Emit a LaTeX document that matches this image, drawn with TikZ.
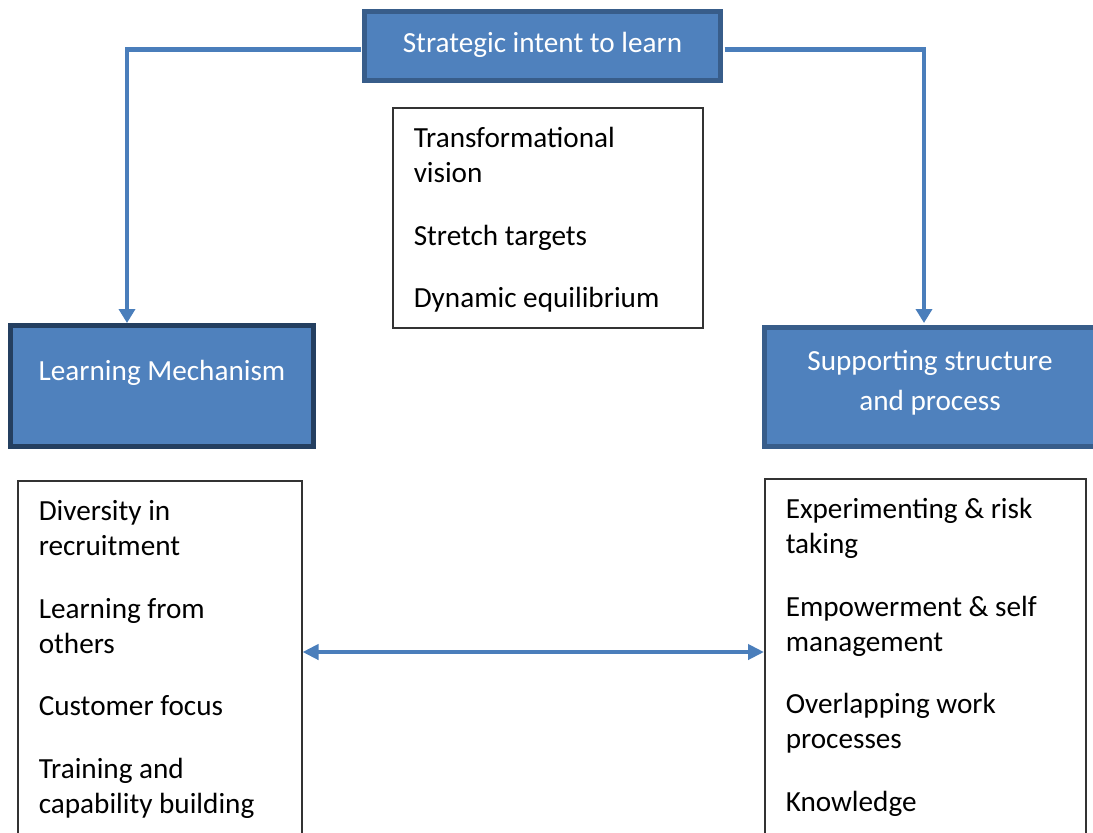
\documentclass[tikz,border=0pt]{standalone}
\usepackage{fontspec}
\setmainfont{Carlito}
\usetikzlibrary{arrows.meta}
\definecolor{boxfill}{HTML}{4F81BD}
\definecolor{boxline}{HTML}{385D8A}
\definecolor{boxdark}{HTML}{243F60}
\definecolor{linkblue}{HTML}{4A7EBB}
\begin{document}
\begin{tikzpicture}[
		x=0.5pt, y=-0.5pt,
		every node/.style={
				font=\fontsize{14.6}{17.5}\selectfont,
			},
		headbox/.style={draw=boxline, line width=2.5pt, fill=boxfill, text=white},
		listbox/.style={draw=black!80, line width=0.75pt, anchor=north west, align=flush left,
				inner xsep=10.5pt, inner ysep=0pt, text height=20pt},
		link/.style={draw=linkblue, line width=2.25pt},
		tip/.style={-{Triangle[width=8pt,length=7pt]}},
	]
	\useasboundingbox (0,0) rectangle (1093,832);
	\clip (0,0) rectangle (1093,832);
	\node[headbox, minimum width=178pt, minimum height=34.5pt, text height=10pt, text depth=4pt]
	(intent) at (542.5,46) {Strategic intent to learn};
	\node[headbox, draw=boxdark, minimum width=151.5pt, minimum height=60.5pt, text height=10pt, text depth=16pt]
	(mechanism) at (162,386) {Learning Mechanism};
	\node[headbox, minimum width=165.5pt, minimum height=59.5pt, align=center]
	(structure) at (930,387) {Supporting structure\\[2.5pt]and process\rule[-7pt]{0pt}{7pt}};
	\node[listbox, text width=134pt, text depth=90pt] (vision) at (392,107)
	{Transformational\\vision\\[13.75pt]Stretch targets\\[13.75pt]Dynamic equilibrium};
	\node[listbox, text width=121pt, text depth=170pt] (mechlist) at (17,480)
	{Diversity in\\recruitment\\[13.75pt]Learning from\\others\\[13.75pt]Customer focus\\[13.75pt]Training and\\capability building};
	\node[listbox, text width=139.5pt, text depth=170pt] (structlist) at (764,478)
	{Experimenting \& risk\\taking\\[13.75pt]Empowerment \& self\\management\\[13.75pt]Overlapping work\\processes\\[13.75pt]Knowledge};
	\coordinate (mech in) at (127,323);
	\coordinate (struct in) at (924,323);
	\coordinate (midrow) at (0,652);
	\draw[link, tip, shorten <=0.75pt] ([yshift=-1.75pt]intent.west) -| (mech in);
	\draw[link, tip, shorten <=0.75pt] ([yshift=-1.75pt]intent.east) -| (struct in);
	\draw[link, {Triangle[width=7.5pt,length=8pt]}-{Triangle[width=7.5pt,length=8pt]}]
	(mechlist.east |- midrow) -- (structlist.west |- midrow);
\end{tikzpicture}
\end{document}
